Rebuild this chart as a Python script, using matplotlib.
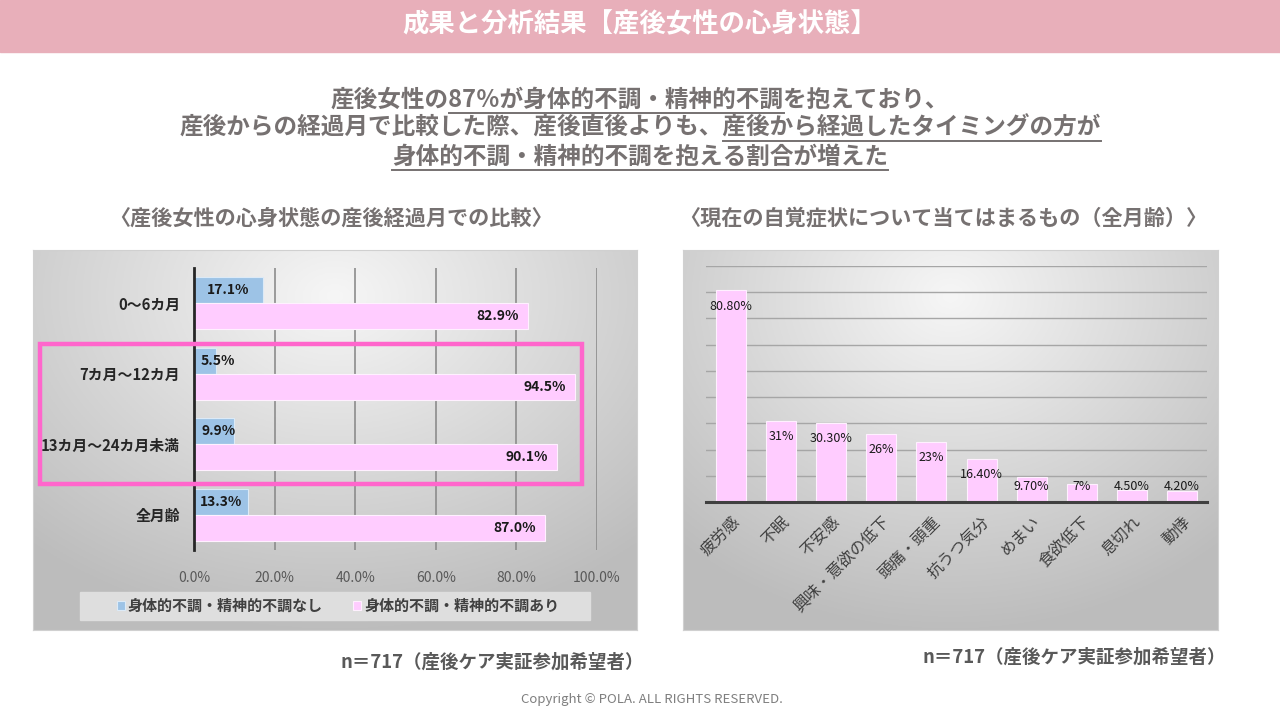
import numpy as np
import matplotlib
matplotlib.use("Agg")
import matplotlib.pyplot as plt
from matplotlib.patches import Rectangle
from matplotlib.lines import Line2D

plt.rcParams['font.family'] = ['Noto Sans CJK JP', 'DejaVu Sans']

# ---- data ----
months = ['0〜6カ月', '7カ月〜12カ月', '13カ月〜24カ月未満', '全月齢']
no_issue = [17.1, 5.5, 9.9, 13.3]
has_issue = [82.9, 94.5, 90.1, 87.0]
series_names = ['身体的不調・精神的不調なし', '身体的不調・精神的不調あり']

symptoms = ['疲労感', '不眠', '不安感', '興味・意欲の低下', '頭痛・頭重',
            '抗うつ気分', 'めまい', '食欲低下', '息切れ', '動悸']
symptom_pct = [80.8, 31, 30.3, 26, 23, 16.4, 9.7, 7, 4.5, 4.2]
symptom_labels = ['80.80%', '31%', '30.30%', '26%', '23%',
                  '16.40%', '9.70%', '7%', '4.50%', '4.20%']

W, H = 1280, 720
fig = plt.figure(figsize=(12.8, 7.2), dpi=100)
fig.patch.set_facecolor('white')


def fx(x):
    return x / W


def fy(y):
    return 1 - y / H


def px_axes(x0, y0, x1, y1, **kw):
    return fig.add_axes([fx(x0), fy(y1), (x1 - x0) / W, (y1 - y0) / H], **kw)


# header band
fig.add_artist(Rectangle((0, fy(52)), 1, 52 / H, transform=fig.transFigure,
                         color='#E8AFBA', zorder=-10))
fig.text(0.5, fy(25), '成果と分析結果【産後女性の心身状態】', ha='center', va='center',
         color='white', fontsize=19, fontweight='bold')

# headline with underlines
grey = '#767171'
r = fig.canvas.get_renderer()
head = [
    ('産後女性の87％が身体的不調・精神的不調を抱えており、', 100, 5, 20),
    ('産後からの経過月で比較した際、産後直後よりも、産後から経過したタイミングの方が', 128, 23, 39),
    ('身体的不調・精神的不調を抱える割合が増えた', 157, 0, 21),
]
hkw = dict(fontsize=17, fontweight='bold', color=grey)
for line, y, s, e in head:
    t = fig.text(0.5, fy(y), line, ha='center', va='center', **hkw)
    bb = t.get_window_extent(r)
    w_pre = 0
    if s > 0:
        tmp = fig.text(0, 0, line[:s], **hkw)
        w_pre = tmp.get_window_extent(r).width
        tmp.remove()
    tmp = fig.text(0, 0, line[s:e], **hkw)
    w_seg = tmp.get_window_extent(r).width
    tmp.remove()
    x0 = bb.x0 + w_pre
    fig.add_artist(Line2D([x0 / W, (x0 + w_seg) / W], [fy(y + 12.5), fy(y + 12.5)],
                          transform=fig.transFigure, color=grey, lw=1.4, zorder=20))

# subtitles
fig.text(fx(331), fy(218), '〈産後女性の心身状態の産後経過月での比較〉', ha='center', va='center',
         fontsize=15.2, fontweight='bold', color=grey)
fig.text(fx(943), fy(218), '〈現在の自覚症状について当てはまるもの（全月齢）〉', ha='center',
         va='center', fontsize=15.2, fontweight='bold', color=grey)


def gradient_panel(x0, y0, x1, y1):
    bg = px_axes(x0, y0, x1, y1, zorder=-5)
    ny, nx = 200, 300
    yy, xx = np.mgrid[0:1:ny * 1j, 0:1:nx * 1j]
    d = np.sqrt(((xx - 0.5) * 1.0) ** 2 + ((yy - 0.12) * 0.85) ** 2)
    v = np.clip(0.965 - 0.30 * d, 0.74, 1)
    bg.imshow(np.dstack([v, v, v]), aspect='auto', extent=(0, 1, 1, 0))
    bg.set_xticks([])
    bg.set_yticks([])
    for s in bg.spines.values():
        s.set_color('#D0D0D0')
        s.set_linewidth(0.8)


gradient_panel(33, 250, 637, 630)
gradient_panel(683, 250, 1218, 630)

# ---- left chart ----
ax = px_axes(194, 268, 597, 550)
ax.set_facecolor('none')
ypos = np.arange(len(months))
bh = 0.37
blue, pink = '#9DC3E6', '#FFCCFF'
ax.barh(ypos - bh / 2, no_issue, height=bh, color=blue, edgecolor='#DCEAF7',
        lw=0.8, label=series_names[0], zorder=3)
ax.barh(ypos + bh / 2, has_issue, height=bh, color=pink, edgecolor='#FFF0FF',
        lw=0.8, label=series_names[1], zorder=3)
for i, v in enumerate(no_issue):
    ax.text(max(v / 2, 6.0), i - bh / 2, f'{v:.1f}%', ha='center', va='center',
            fontsize=10, fontweight='bold', color='#1A1A1A', zorder=4)
for i, v in enumerate(has_issue):
    ax.text(v - 2.2, i + bh / 2, f'{v:.1f}%', ha='right', va='center',
            fontsize=10, fontweight='bold', color='#1A1A1A', zorder=4)
ax.set_xlim(0, 100)
ax.set_ylim(len(months) - 0.5, -0.5)
ax.set_xticks(np.arange(0, 101, 20))
ax.set_xticklabels([f'{t:.1f}%' for t in range(0, 101, 20)])
ax.set_yticks(ypos)
ax.set_yticklabels(months)
ax.tick_params(axis='x', length=0, labelsize=10, labelcolor='#595959', pad=15)
ax.tick_params(axis='y', length=0, labelsize=10.7, labelcolor='#262626', pad=10)
for lab in ax.get_yticklabels():
    lab.set_fontweight('bold')
ax.grid(axis='x', color='#8C8C8C', lw=1.2, zorder=1)
for s in ['top', 'right', 'bottom']:
    ax.spines[s].set_visible(False)
ax.spines['left'].set_color('#262626')
ax.spines['left'].set_linewidth(2)
ax.spines['left'].set_zorder(5)

# legend on a light band (band sits between the gradient and the chart axes)
fig.add_artist(Rectangle((fx(80), fy(620)), (590 - 80) / W, 28 / H,
                         transform=fig.transFigure, color='#DEDEDE', zorder=-1))
leg = ax.legend(loc='center', bbox_to_anchor=(fx(338), fy(606)),
                bbox_transform=fig.transFigure, ncol=2, frameon=False,
                handlelength=0.55, handleheight=0.55, handletextpad=0.2,
                columnspacing=2.0, borderaxespad=0, fontsize=10.8)
for t in leg.get_texts():
    t.set_fontweight('bold')
    t.set_color('#404040')

# highlight box
fig.add_artist(Rectangle((fx(40), fy(484)), (582 - 40) / W, (484 - 344) / H,
                         transform=fig.transFigure, fill=False, ec='#FF66CC', lw=3.2,
                         zorder=10))

# ---- right chart ----
ax2 = px_axes(706, 266, 1207, 502)
ax2.set_facecolor('none')
xpos = np.arange(len(symptoms))
ax2.bar(xpos, symptom_pct, width=0.6, color=pink, edgecolor='#FFF0FF', lw=0.8, zorder=3)
for i, (v, lab) in enumerate(zip(symptom_pct, symptom_labels)):
    ax2.text(i, max(v - 6.1, 6.1), lab, ha='center', va='center', fontsize=9,
             color='#1A1A1A', zorder=4)
ax2.set_xlim(-0.5, len(symptoms) - 0.5)
ax2.set_ylim(0, 90)
ax2.set_yticks(np.arange(10, 91, 10))
ax2.set_yticklabels([])
ax2.tick_params(axis='y', length=0)
ax2.grid(axis='y', color='#A6A6A6', lw=1.0, zorder=1)
ax2.set_xticks(xpos)
ax2.set_xticklabels(symptoms, rotation=45, ha='right', rotation_mode='anchor')
ax2.tick_params(axis='x', length=0, labelsize=11.5, labelcolor='#404040', pad=8)
for s in ['top', 'right', 'left']:
    ax2.spines[s].set_visible(False)
ax2.spines['bottom'].set_color('#404040')
ax2.spines['bottom'].set_linewidth(2.2)
ax2.spines['bottom'].set_zorder(5)

# footnotes
fig.text(fx(492), fy(662), 'n＝717（産後ケア実証参加希望者）', ha='center', va='center',
         fontsize=13.3, fontweight='bold', color='#595959')
fig.text(fx(1074), fy(657), 'n＝717（産後ケア実証参加希望者）', ha='center', va='center',
         fontsize=13.3, fontweight='bold', color='#595959')
fig.text(fx(652), fy(700), 'Copyright © POLA. ALL RIGHTS RESERVED.', ha='center',
         va='center', fontsize=9.5, color='#7F7F7F')

fig.savefig('out.png', dpi=100)
